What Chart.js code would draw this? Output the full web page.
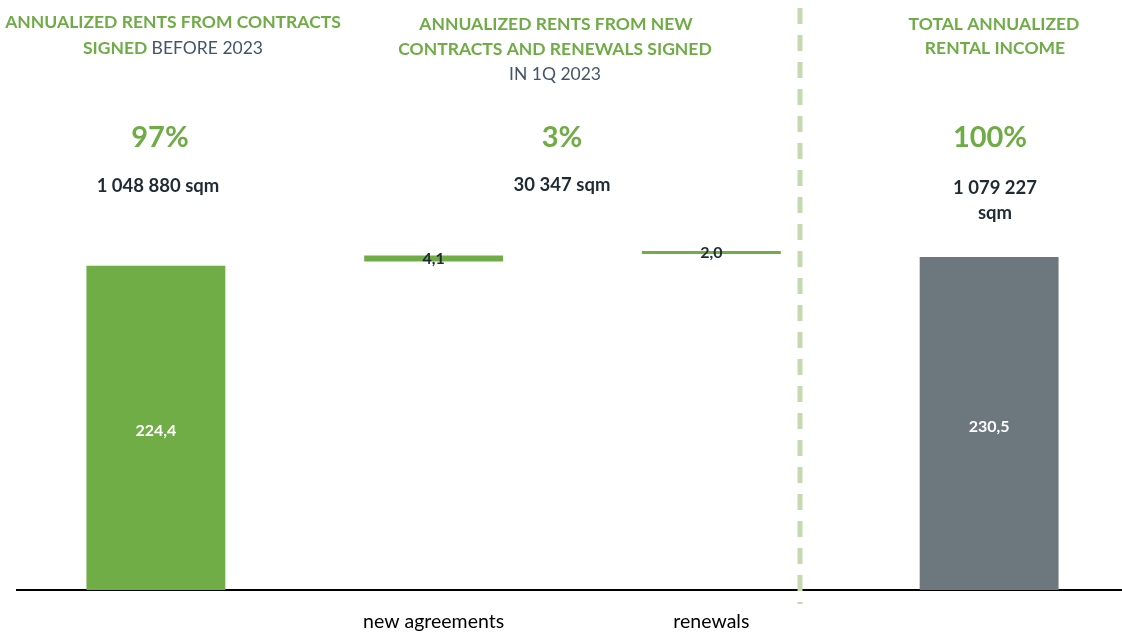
<!DOCTYPE html>
<html>
<head>
<meta charset="utf-8">
<script src="https://cdn.jsdelivr.net/npm/chart.js@4.4.1/dist/chart.umd.min.js"></script>
<style>
  html, body { margin: 0; padding: 0; background: #fff; overflow: hidden; }
  #wrap { width: 1128px; height: 633px; }
</style>
</head>
<body>
<div id="wrap"><canvas id="rentChart" width="1128" height="633"></canvas></div>
<script>
// Data
const categories = ['', 'new agreements', 'renewals', ''];
const barValues = [224.4, 4.1, 2.0, 230.5];
const barBases = [0, 227.4, 232.6, 0];
const valueLabels = ['224,4', '4,1', '2,0', '230,5'];
const barColors = ['#70AD47', '#70AD47', '#70AD47', '#6D787E'];

const shareLabels = ['97%', '3%', '100%'];
const areaLabels = [['1 048 880 sqm'], ['30 347 sqm'], ['1 079 227', 'sqm']];

const GREEN = '#6FAC46';
const DARK = '#1E2B33';
const GREY_TXT = '#44546A';
const FONT = 'Lato, "Open Sans", sans-serif';
const HEAD = '17.5px ' + FONT;

// header text, drawn on the canvas
const overlay = {
  id: 'overlay',
  afterDraw(chart) {
    const ctx = chart.ctx;
    ctx.save();

    // dashed divider
    ctx.strokeStyle = '#C5D9B0';
    ctx.lineWidth = 5;
    ctx.setLineDash([16, 11]);
    ctx.beginPath();
    ctx.moveTo(800, 8);
    ctx.lineTo(800, 604);
    ctx.stroke();
    ctx.setLineDash([]);

    ctx.textAlign = 'center';
    ctx.textBaseline = 'middle';

    // column 1 header (two colours on line 2)
    ctx.font = 'bold ' + HEAD;
    ctx.fillStyle = GREEN;
    ctx.fillText('ANNUALIZED RENTS FROM CONTRACTS', 173, 22);
    const partA = 'SIGNED ';
    const partB = 'BEFORE 2023';
    const wA = ctx.measureText(partA).width;
    ctx.font = HEAD;
    const wB = ctx.measureText(partB).width;
    const x0 = 173 - (wA + wB) / 2;
    ctx.textAlign = 'left';
    ctx.font = 'bold ' + HEAD;
    ctx.fillStyle = GREEN;
    ctx.fillText(partA, x0, 48);
    ctx.font = HEAD;
    ctx.fillStyle = GREY_TXT;
    ctx.fillText(partB, x0 + wA, 48);
    ctx.textAlign = 'center';

    // column 2 header
    ctx.font = 'bold ' + HEAD;
    ctx.fillStyle = GREEN;
    ctx.fillText('ANNUALIZED RENTS FROM NEW', 556, 24);
    ctx.fillText('CONTRACTS AND RENEWALS SIGNED', 555, 49);
    ctx.font = HEAD;
    ctx.fillStyle = GREY_TXT;
    ctx.fillText('IN 1Q 2023', 555, 74);

    // column 3 header
    ctx.font = 'bold ' + HEAD;
    ctx.fillStyle = GREEN;
    ctx.fillText('TOTAL ANNUALIZED', 994, 24);
    ctx.fillText('RENTAL INCOME', 995, 48);

    // shares and areas
    const colX = [160, 562, 990];
    ctx.font = 'bold 29px ' + FONT;
    ctx.fillStyle = GREEN;
    shareLabels.forEach((s, i) => ctx.fillText(s, colX[i], 138));
    ctx.font = 'bold 18.5px ' + FONT;
    ctx.fillStyle = DARK;
    const areaX = [158, 562, 995];
    const areaY = [186, 185, 188];
    areaLabels.forEach((lines, i) => {
      lines.forEach((t, j) => ctx.fillText(t, areaX[i], areaY[i] + j * 25));
    });

    // value labels on bars
    const meta = chart.getDatasetMeta(0);
    ctx.font = 'bold 16px ' + FONT;
    meta.data.forEach((bar, i) => {
      const top = Math.min(bar.y, bar.base);
      const bot = Math.max(bar.y, bar.base);
      const tall = bot - top > 30;
      ctx.fillStyle = tall ? '#FFFFFF' : DARK;
      ctx.fillText(valueLabels[i], bar.x, (top + bot) / 2 + (tall ? 3 : 0));
    });

    ctx.restore();
  }
};

const ctx = document.getElementById('rentChart').getContext('2d');
new Chart(ctx, {
  type: 'bar',
  data: {
    labels: categories,
    datasets: [{
      data: barValues.map((v, i) => [barBases[i], barBases[i] + v]),
      backgroundColor: barColors,
      borderWidth: 0,
      categoryPercentage: 0.5,
      barPercentage: 1
    }]
  },
  options: {
    responsive: false,
    animation: false,
    devicePixelRatio: 1,
    layout: { padding: { left: 17, right: 0, top: 12, bottom: 0 } },
    plugins: {
      legend: { display: false },
      tooltip: { enabled: false }
    },
    scales: {
      x: {
        grid: { display: false, drawTicks: false },
        border: { display: true, color: '#000000', width: 2 },
        ticks: { color: '#000000', font: { family: FONT, size: 19.5 }, padding: 20 },
        afterFit(scale) { scale.height = 43; }
      },
      y: {
        display: false,
        min: 0,
        max: 400
      }
    }
  },
  plugins: [overlay]
});
</script>
</body>
</html>
